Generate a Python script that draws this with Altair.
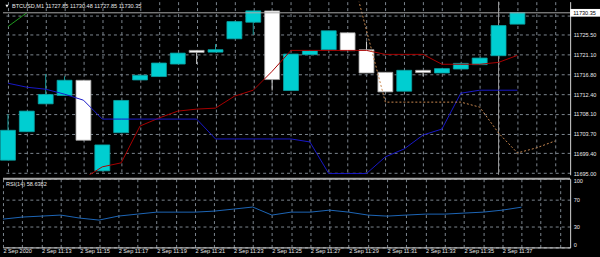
import altair as alt
import pandas as pd

# ---------------- data ----------------
times = ["11:11", "11:12", "11:13", "11:14", "11:15", "11:16", "11:17", "11:18", "11:19", "11:20",
         "11:21", "11:22", "11:23", "11:24", "11:25", "11:26", "11:27", "11:28", "11:29", "11:30",
         "11:31", "11:32", "11:33", "11:34", "11:35", "11:36", "11:37", "11:38"]
opens = [11697.85, 11704.13, 11710.27, 11712.12, 11715.47, 11695.50, 11703.91, 11715.54, 11716.29, 11719.05,
         11722.06, 11721.68, 11724.62, 11728.27, 11730.77, 11713.21, 11721.11, 11722.21, 11725.94, 11722.21,
         11717.23, 11713.06, 11717.67, 11717.08, 11717.95, 11718.92, 11720.89, 11727.85]
highs = [11708.00, 11708.67, 11716.86, 11716.35, 11715.47, 11701.21, 11711.02, 11716.57, 11719.27, 11721.46,
         11722.06, 11723.44, 11728.42, 11730.77, 11730.77, 11721.25, 11722.00, 11726.38, 11725.94, 11724.03,
         11717.23, 11717.67, 11717.67, 11718.04, 11719.20, 11720.37, 11727.54, 11730.48]
lows = [11697.85, 11704.13, 11710.27, 11712.12, 11702.24, 11695.50, 11703.91, 11715.54, 11716.29, 11719.05,
        11719.05, 11721.68, 11724.62, 11725.50, 11713.21, 11713.21, 11721.11, 11722.21, 11722.00, 11717.08,
        11712.91, 11713.06, 11716.35, 11717.08, 11717.95, 11718.92, 11720.89, 11727.85]
closes = [11704.44, 11708.67, 11712.34, 11715.47, 11702.24, 11701.21, 11711.02, 11716.57, 11719.27, 11721.46,
          11721.62, 11722.21, 11728.42, 11730.77, 11715.63, 11721.25, 11722.00, 11726.38, 11722.00, 11717.08,
          11712.91, 11717.67, 11717.16, 11718.04, 11719.20, 11720.37, 11727.54, 11730.35]

tenkan_times = times[4:]
tenkan = [11693.75, 11696.38, 11697.26, 11705.38, 11707.14, 11708.67, 11709.11, 11709.33, 11711.96, 11713.28,
          11717.45, 11722.06, 11722.06, 11722.06, 11722.06, 11722.06, 11721.18, 11721.18, 11721.18, 11719.00,
          11719.00, 11719.00, 11719.42, 11720.96]
kijun = [11714.82, 11713.94, 11713.50, 11712.40, 11711.08, 11706.91, 11706.91, 11706.91, 11706.91, 11706.91,
         11706.91, 11702.53, 11702.53, 11702.53, 11702.53, 11702.53, 11701.87, 11694.90, 11694.90, 11694.90,
         11698.58, 11700.33, 11703.40, 11704.72, 11712.62, 11713.28, 11713.28, 11713.28]
senkou_times = ["11:29", "11:30", "11:31", "11:32", "11:33", "11:34", "11:35", "11:36", "11:37", "11:38",
                "11:39", "11:40"]
senkou = [11742.46, 11726.47, 11710.65, 11710.65, 11710.65, 11710.65, 11710.65, 11709.55, 11703.84, 11699.45,
          11700.55, 11702.09]
chikou_times = ["11:11", "11:12"]
chikou = [11727.32, 11730.35]

rsi = [41.2, 44.2, 45.6, 47.1, 42.7, 39.8, 45.6, 48.5, 51.4, 51.4,
       51.4, 52.9, 55.8, 58.8, 47.1, 51.4, 51.4, 54.3, 51.4, 47.1,
       45.6, 47.1, 48.5, 48.5, 50.0, 51.4, 54.3, 58.64]

price_ticks = [11695.00, 11699.40, 11703.70, 11708.10, 11712.40, 11716.80, 11721.10, 11725.50, 11729.80]
rsi_ticks = [0, 30, 70, 100]
axis_label_times = ["11:11", "11:13", "11:15", "11:17", "11:19", "11:21", "11:23", "11:25", "11:27",
                    "11:29", "11:31", "11:33", "11:35", "11:37"]
axis_labels = ["2 Sep 2020", "2 Sep 11:13", "2 Sep 11:15", "2 Sep 11:17", "2 Sep 11:19", "2 Sep 11:21",
               "2 Sep 11:23", "2 Sep 11:25", "2 Sep 11:27", "2 Sep 11:29", "2 Sep 11:31", "2 Sep 11:33",
               "2 Sep 11:35", "2 Sep 11:37"]
bid = 11730.35
bid_label = "11730.35"
marker_time = "11:37"
header = "BTCUSD,M1  11727.85 11730.48 11727.85 11730.35"
rsi_header = "RSI(14) 58.6382"

# ---------------- helpers ----------------
def tix(s):
    h, m = s.split(":")
    return int(h) * 60 + int(m) - (11 * 60 + 11)

N_MIN = 30
x_domain = [0, 29.53]
price_domain = [11694.63, 11732.81]

FONT = "Liberation Sans"
FS = 5.6
TXT = "#e8e8e8"
GRID = "#7d868f"
BULL = "#00CED1"
BEAR = "#ffffff"

candles = pd.DataFrame({
    "t": [tix(s) for s in times], "open": opens, "high": highs, "low": lows, "close": closes,
})
candles["bull"] = [c >= o for o, c in zip(opens, closes)]
bull_c = candles[candles["bull"]]
bear_c = candles[~candles["bull"]]

tenkan_df = pd.DataFrame({"t": [tix(s) for s in tenkan_times], "v": tenkan})
kijun_df = pd.DataFrame({"t": [tix(s) for s in times], "v": kijun})
chikou_df = pd.DataFrame({"t": [tix(s) for s in chikou_times], "v": chikou})
senkou_df = pd.DataFrame({"t": [tix(s) for s in senkou_times], "v": senkou})
rsi_df = pd.DataFrame({"t": [tix(s) for s in times], "v": rsi})

label_arr = [""] * N_MIN
for s, lab in zip(axis_label_times, axis_labels):
    label_arr[tix(s)] = lab
label_expr = "[" + ",".join("'" + l + "'" for l in label_arr) + "][round(datum.value)]"

xscale = alt.Scale(domain=x_domain, nice=False, zero=False)
grid_vals = list(range(N_MIN))

x_main = alt.X("t:Q", scale=xscale, title=None,
               axis=alt.Axis(values=grid_vals, labels=False, ticks=False, domain=False, grid=True,
                             gridColor=GRID, gridDash=[3, 3], gridWidth=1))
x_rsi = alt.X("t:Q", scale=xscale, title=None,
              axis=alt.Axis(values=grid_vals, labelExpr=label_expr, ticks=False, domain=True,
                            domainColor="#d8d8d8", grid=True, gridColor=GRID, gridDash=[3, 3],
                            labelAlign="left", labelPadding=1, labelOverlap=False, labelFlush=False,
                            labelBound=False, labelColor=TXT, labelFont=FONT, labelFontSize=FS))

yscale = alt.Scale(domain=price_domain, nice=False, zero=False)
y_axis = alt.Axis(orient="right", values=price_ticks, format=".2f",
                  labelExpr="datum.value > 11729 ? '' : format(datum.value, '.2f')",
                  ticks=False, domain=True, domainColor="#d8d8d8", grid=True, gridColor=GRID,
                  gridDash=[3, 3], labelColor=TXT, labelFont=FONT, labelFontSize=FS, labelPadding=3)

def Y(field):
    return alt.Y(field, scale=yscale, axis=y_axis, title=None)

def candle_layers(df, fill, edge, wick):
    b = alt.Chart(df)
    w = b.mark_rule(strokeWidth=1, color=wick).encode(x=x_main, y=Y("low:Q"), y2="high:Q")
    body = b.mark_bar(size=15, strokeWidth=0.8, fill=fill, stroke=edge).encode(
        x=x_main, y=Y("open:Q"), y2="close:Q")
    return [w, body]

def line(df, color, **kw):
    return alt.Chart(df).mark_line(strokeWidth=1, color=color, clip=True, **kw).encode(
        x=x_main, y=Y("v:Q"))

marker = alt.Chart(pd.DataFrame({"t": [tix(marker_time)]})).mark_rule(color="#9c9c9c", strokeWidth=1).encode(
    x=x_main)
bid_df = pd.DataFrame({"v": [bid], "lo": [bid - 0.85], "hi": [bid + 0.85], "lab": [bid_label]})
bid_line = alt.Chart(bid_df).mark_rule(color="#a8a8a8", strokeWidth=1).encode(y=Y("v:Q"))
bid_box = alt.Chart(bid_df).mark_rect(color="white", clip=False).encode(
    x=alt.value(570), x2=alt.value(600), y=Y("hi:Q"), y2="lo:Q")
bid_text = alt.Chart(bid_df).mark_text(align="left", baseline="middle", font=FONT, fontSize=FS,
                                       color="black", clip=False).encode(
    x=alt.value(573), y=Y("v:Q"), text="lab:N")
head_df = pd.DataFrame({"s": [header]})
head_text = alt.Chart(head_df).mark_text(align="left", baseline="middle", font=FONT, fontSize=FS,
                                         color=TXT).encode(x=alt.value(9), y=alt.value(4.5), text="s:N")
head_tri = alt.Chart(head_df).mark_point(shape="triangle-down", filled=True, color="white", size=10,
                                         opacity=1).encode(x=alt.value(4), y=alt.value(4.5))

layers = [marker]
layers += candle_layers(bull_c, BULL, "#0aa3a5", "#1a9a9a")
layers += candle_layers(bear_c, BEAR, "#a0a0a0", "#cfcfcf")
layers += [
    line(tenkan_df, "#a80000"),
    line(kijun_df, "#1818c8"),
    line(chikou_df, "#1f9a1f"),
    line(senkou_df, "#c98850", strokeDash=[2, 2]),
    bid_line, bid_box, bid_text, head_text, head_tri,
]
main = alt.layer(*layers).properties(width=570, height=174)

ry_axis = alt.Axis(orient="right", values=rsi_ticks, ticks=False, domain=True, domainColor="#d8d8d8",
                   grid=True, gridColor=GRID, gridDash=[3, 3], labelColor=TXT, labelFont=FONT,
                   labelFontSize=FS, labelPadding=3, labelFlush=True)
ry_scale = alt.Scale(domain=[0, 100], nice=False)
rsi_line = alt.Chart(rsi_df).mark_line(strokeWidth=1, color="#1d66b6").encode(
    x=x_rsi, y=alt.Y("v:Q", scale=ry_scale, axis=ry_axis, title=None))
sep = alt.Chart(pd.DataFrame({"v": [100]})).mark_rule(color="#a8a8a8", strokeWidth=2).encode(
    y=alt.Y("v:Q", scale=ry_scale, axis=ry_axis, title=None))
rsi_text = alt.Chart(pd.DataFrame({"s": [rsi_header]})).mark_text(
    align="left", baseline="middle", font=FONT, fontSize=FS, color=TXT).encode(
    x=alt.value(3), y=alt.value(5.5), text="s:N")
rsi_panel = alt.layer(rsi_line, sep, rsi_text).properties(width=570, height=69)

chart = alt.vconcat(main, rsi_panel, spacing=1).properties(
    background="black", padding={"left": 0, "top": 0, "right": 0, "bottom": 6}
).configure_view(strokeWidth=0).configure_concat(spacing=1)

chart.save("out.html", embed_options={"renderer": "svg", "actions": False})
